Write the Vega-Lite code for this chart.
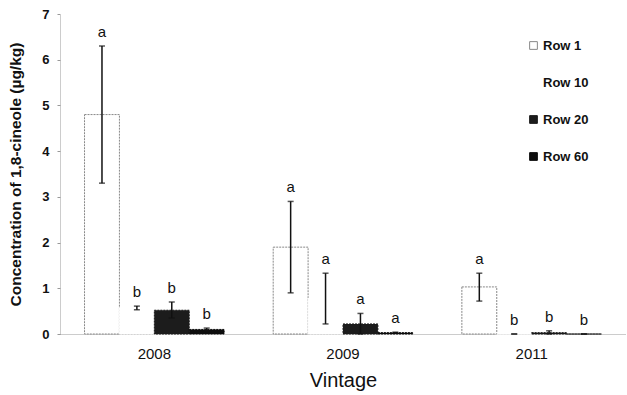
{
  "$schema": "https://vega.github.io/schema/vega-lite/v6.json",
  "width": 566,
  "height": 320,
  "autosize": {"type": "none"},
  "padding": {"left": 60, "top": 14, "right": 1, "bottom": 61},
  "background": "white",
  "config": {"view": {"stroke": null}, "font": "Liberation Sans"},
  "data": {"values": [
    {"Vintage": "2008", "Row": "Row 1", "value": 4.8, "lo": 3.3, "hi": 6.3, "sig": "a"},
    {"Vintage": "2008", "Row": "Row 10", "value": 0.57, "lo": 0.53, "hi": 0.61, "sig": "b"},
    {"Vintage": "2008", "Row": "Row 20", "value": 0.52, "lo": 0.35, "hi": 0.7, "sig": "b"},
    {"Vintage": "2008", "Row": "Row 60", "value": 0.1, "lo": 0.07, "hi": 0.13, "sig": "b"},
    {"Vintage": "2009", "Row": "Row 1", "value": 1.9, "lo": 0.9, "hi": 2.9, "sig": "a"},
    {"Vintage": "2009", "Row": "Row 10", "value": 0.78, "lo": 0.22, "hi": 1.33, "sig": "a"},
    {"Vintage": "2009", "Row": "Row 20", "value": 0.22, "lo": 0.0, "hi": 0.45, "sig": "a"},
    {"Vintage": "2009", "Row": "Row 60", "value": 0.03, "lo": 0.02, "hi": 0.04, "sig": "a"},
    {"Vintage": "2011", "Row": "Row 1", "value": 1.03, "lo": 0.72, "hi": 1.33, "sig": "a"},
    {"Vintage": "2011", "Row": "Row 10", "value": 0.0, "lo": 0.0, "hi": 0.0, "sig": "b"},
    {"Vintage": "2011", "Row": "Row 20", "value": 0.03, "lo": 0.0, "hi": 0.07, "sig": "b"},
    {"Vintage": "2011", "Row": "Row 60", "value": 0.0, "lo": 0.0, "hi": 0.0, "sig": "b"}
  ]},
  "encoding": {
    "x": {
      "field": "Vintage", "type": "nominal",
      "scale": {"paddingInner": 0.26, "paddingOuter": 0.13},
      "axis": {
        "labelAngle": 0, "labelFontSize": 15, "labelPadding": 12, "ticks": false,
        "domainColor": "#999", "domainDash": [1, 1], "labelColor": "#111",
        "title": "Vintage", "titleFontSize": 20, "titleFontWeight": "normal", "titlePadding": 9, "titleColor": "#111"
      }
    },
    "xOffset": {"field": "Row", "type": "nominal", "sort": ["Row 1", "Row 10", "Row 20", "Row 60"], "scale": {"paddingInner": 0}}
  },
  "layer": [
    {
      "mark": {"type": "bar", "strokeDash": [2, 1], "strokeWidth": 1},
      "encoding": {
        "y": {
          "field": "value", "type": "quantitative",
          "scale": {"domain": [0, 7], "nice": false},
          "axis": {
            "values": [0, 1, 2, 3, 4, 5, 6, 7], "grid": false,
            "labelFontSize": 13, "labelFontWeight": "bold", "labelPadding": 8, "labelColor": "#111",
            "tickSize": 3, "tickColor": "#999", "domainColor": "#999", "domainDash": [1, 1],
            "title": "Concentration of 1,8-cineole (µg/kg)", "titleFontSize": 15.5, "titleFontWeight": "bold",
            "titleColor": "#111", "titlePadding": 18
          }
        },
        "fill": {
          "field": "Row", "type": "nominal", "sort": ["Row 1", "Row 10", "Row 20", "Row 60"],
          "scale": {"domain": ["Row 1", "Row 10", "Row 20", "Row 60"], "range": ["white", "white", "#1c1c1c", "#0d0d0d"]},
          "legend": {
            "orient": "none", "legendX": 467, "legendY": 25, "title": null,
            "symbolType": "square", "symbolSize": 60, "symbolStrokeWidth": 1,
            "labelFontSize": 13, "labelFontWeight": "bold", "labelColor": "#111", "labelOffset": 3,
            "rowPadding": 23
          }
        },
        "stroke": {
          "field": "Row", "type": "nominal",
          "scale": {"domain": ["Row 1", "Row 10", "Row 20", "Row 60"], "range": ["#888", "#ffffff", "#1c1c1c", "#0d0d0d"]},
          "legend": null
        }
      }
    },
    {
      "mark": {"type": "rule", "color": "#111", "strokeWidth": 1.5},
      "encoding": {"y": {"field": "lo", "type": "quantitative"}, "y2": {"field": "hi"}}
    },
    {
      "mark": {"type": "tick", "color": "#111", "size": 6, "thickness": 1.5},
      "encoding": {"y": {"field": "hi", "type": "quantitative"}}
    },
    {
      "mark": {"type": "tick", "color": "#111", "size": 6, "thickness": 1.5},
      "encoding": {"y": {"field": "lo", "type": "quantitative"}}
    },
    {
      "mark": {"type": "text", "dy": -9, "baseline": "alphabetic", "fontSize": 15, "color": "#111"},
      "encoding": {"y": {"field": "hi", "type": "quantitative"}, "text": {"field": "sig"}}
    }
  ]
}
